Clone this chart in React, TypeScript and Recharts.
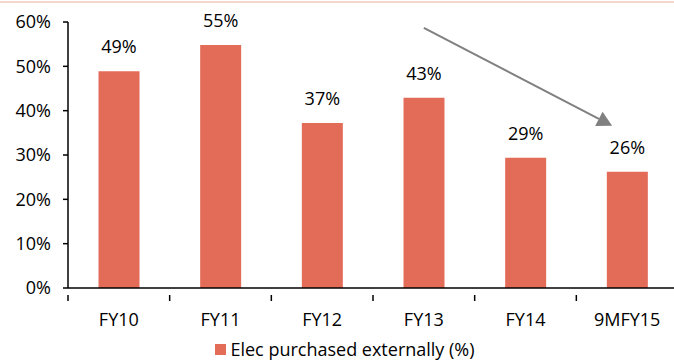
import { BarChart, Bar, XAxis, YAxis, Legend, LabelList, ReferenceLine } from 'recharts'

const categories = ['FY10', 'FY11', 'FY12', 'FY13', 'FY14', '9MFY15']
const purchasedPct = [48.9, 54.8, 37.2, 42.9, 29.4, 26.2]
const yTicks = [0, 10, 20, 30, 40, 50, 60]
const seriesName = 'Elec purchased externally (%)'

// arrow runs from above FY13 down towards 9MFY15
const arrowFrom = { x: 'FY13', y: 58.7 }
const arrowTo = { x: '9MFY15', y: 36.6 }

const data = categories.map((name, i) => ({ name, value: purchasedPct[i] }))

const FONT = '"Open Sans", sans-serif'
const BAR = '#E36C59'
const W = 678
const H = 361
const Y_AXIS_W = 68
const BAND = (W - Y_AXIS_W) / categories.length

function XTick(props: any) {
  const { x, y, payload, index } = props
  return (
    <g>
      <line x1={x - BAND / 2} x2={x - BAND / 2} y1={y - 1} y2={y + 5} stroke="#000" strokeWidth={1.5} />
      {index === categories.length - 1 && (
        <line x1={x + BAND / 2} x2={x + BAND / 2} y1={y - 1} y2={y + 5} stroke="#000" strokeWidth={1.5} />
      )}
      <text x={x} y={y + 30} textAnchor="middle" fill="#000" fontSize={18} fontFamily={FONT}>
        {payload.value}
      </text>
    </g>
  )
}

function Arrow(props: any) {
  const { x1, y1, x2, y2 } = props
  const tipX = x2 - 15
  const tipY = y2
  const dx = tipX - x1
  const dy = tipY - y1
  const len = Math.sqrt(dx * dx + dy * dy)
  const ux = dx / len
  const uy = dy / len
  const head = 15
  const half = 8
  const bx = tipX - ux * head
  const by = tipY - uy * head
  return (
    <g>
      <line x1={x1} y1={y1} x2={bx} y2={by} stroke="#808080" strokeWidth={2} />
      <polygon
        points={`${tipX},${tipY} ${bx - uy * half},${by + ux * half} ${bx + uy * half},${by - ux * half}`}
        fill="#808080"
      />
    </g>
  )
}

function LegendBox() {
  return (
    <div
      style={{
        display: 'flex',
        justifyContent: 'center',
        alignItems: 'center',
        height: 24,
        lineHeight: '24px',
        paddingLeft: 12,
        fontFamily: FONT,
        fontSize: 18,
        color: '#000',
      }}
    >
      <span style={{ width: 11, height: 11, background: BAR, display: 'inline-block', marginRight: 4 }} />
      {seriesName}
    </div>
  )
}

export default function App() {
  return (
    <div style={{ position: 'absolute', left: 0, top: 0, width: 674, height: 361, overflow: 'hidden', background: '#fff' }}>
      <div style={{ position: 'absolute', left: 0, top: 1, width: 674, height: 2, background: '#F5D6CF' }} />
      <BarChart width={W} height={H} data={data} margin={{ top: 22, right: 0, left: 0, bottom: 0 }} barCategoryGap="30%">
        <XAxis
          dataKey="name"
          height={49}
          tickLine={false}
          axisLine={{ stroke: '#000', strokeWidth: 1.5 }}
          tick={<XTick />}
          interval={0}
        />
        <YAxis
          width={Y_AXIS_W}
          domain={[0, 60]}
          ticks={yTicks}
          tickFormatter={(v: number) => `${v}%`}
          tickSize={5}
          tickMargin={12}
          tickLine={{ stroke: '#000', strokeWidth: 1.5 }}
          axisLine={{ stroke: '#000', strokeWidth: 1.5 }}
          tick={{ fill: '#000', fontSize: 18, fontFamily: FONT }}
        />
        <Legend verticalAlign="bottom" height={24} content={<LegendBox />} />
        <Bar dataKey="value" name={seriesName} fill={BAR} isAnimationActive={false}>
          <LabelList
            dataKey="value"
            position="top"
            offset={18}
            formatter={(v: any) => `${Math.round(Number(v))}%`}
            style={{ fill: '#000', fontSize: 18, fontFamily: FONT }}
          />
        </Bar>
        <ReferenceLine segment={[arrowFrom, arrowTo]} shape={<Arrow />} ifOverflow="visible" />
      </BarChart>
    </div>
  )
}
